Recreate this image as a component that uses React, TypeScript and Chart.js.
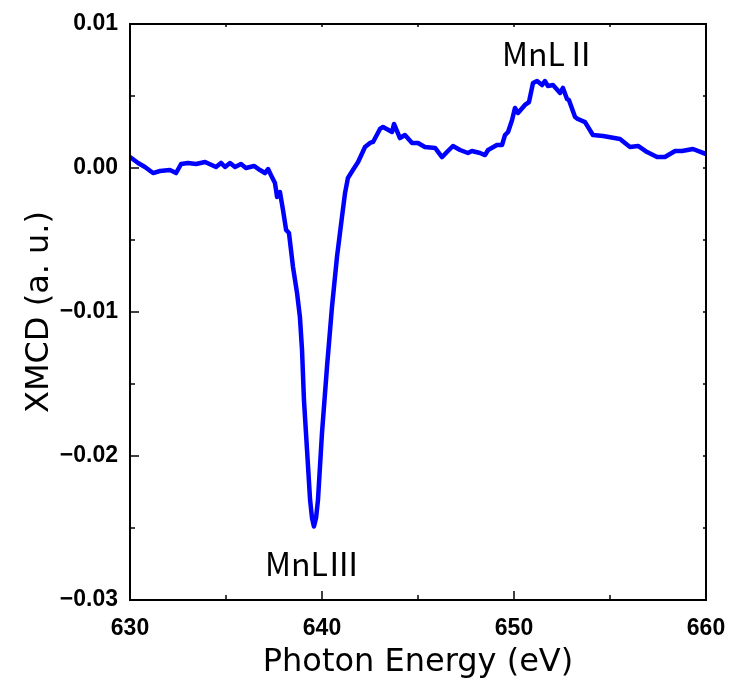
import React, { useEffect, useRef } from "react";
import { Chart, registerables } from "chart.js";

Chart.register(...registerables);

const energy: number[] = [
  630.0, 630.42, 630.78, 631.2, 631.56, 632.08, 632.4, 632.66, 633.02, 633.44,
  633.91, 634.48, 634.74, 634.95, 635.21, 635.47, 635.78, 636.04, 636.46, 636.77,
  637.03, 637.19, 637.34, 637.55, 637.66, 637.81, 637.97, 638.13, 638.28, 638.49,
  638.7, 638.85, 638.96, 639.06, 639.22, 639.38, 639.48, 639.58, 639.69, 639.79,
  640.0, 640.26, 640.52, 640.78, 641.04, 641.2, 641.35, 641.61, 641.88, 642.24,
  642.5, 642.66, 643.02, 643.18, 643.65, 643.75, 644.06, 644.32, 644.69, 645.0,
  645.36, 645.89, 646.25, 646.56, 646.82, 647.19, 647.6, 647.81, 648.23, 648.49,
  648.65, 649.11, 649.38, 649.53, 649.69, 649.9, 650.05, 650.21, 650.57, 650.78,
  650.99, 651.2, 651.46, 651.61, 651.77, 652.03, 652.4, 652.55, 652.76, 652.86,
  653.18, 653.33, 653.7, 654.11, 654.64, 655.52, 656.04, 656.46, 656.93, 657.45,
  657.86, 658.39, 658.75, 659.32, 660.0,
];

const xmcd: number[] = [
  0.00076, 0.00035, 0.00007, -0.00035, -0.00021, -0.00014, -0.00035, 0.00028, 0.00035, 0.00028,
  0.00042, 0.00007, 0.00035, 0.00007, 0.00035, 0.00007, 0.00028, 0.0, 0.00014, -0.00014,
  -0.00035, -0.00007, -0.00049, -0.00104, -0.00201, -0.00167, -0.00292, -0.0043, -0.00451, -0.00688,
  -0.00868, -0.01035, -0.01264, -0.01611, -0.01958, -0.02306, -0.0243, -0.0249, -0.0243, -0.02306,
  -0.0184, -0.01382, -0.00965, -0.00618, -0.0034, -0.00174, -0.00069, -0.00014, 0.00042, 0.00146,
  0.00174, 0.00181, 0.00271, 0.00285, 0.0025, 0.00306, 0.00208, 0.00229, 0.00174, 0.00174,
  0.00146, 0.00139, 0.00076, 0.00118, 0.00153, 0.00125, 0.00104, 0.00118, 0.00104, 0.0009,
  0.00125, 0.0016, 0.0016, 0.00229, 0.0025, 0.00333, 0.00417, 0.00382, 0.00438, 0.00458,
  0.0059, 0.00604, 0.00576, 0.00604, 0.00569, 0.00576, 0.00521, 0.00556, 0.00479, 0.00472,
  0.00354, 0.0034, 0.00319, 0.00229, 0.00222, 0.00201, 0.00146, 0.00153, 0.00111, 0.00076,
  0.00076, 0.00118, 0.00118, 0.00132, 0.00097,
];

const xTicks: number[] = [630, 640, 650, 660];
const xMinorTicks: number[] = [635, 645, 655];
const yTicks: number[] = [-0.03, -0.02, -0.01, 0.0, 0.01];
const yTickLabels: string[] = ["\u22120.03", "\u22120.02", "\u22120.01", "0.00", "0.01"];
const yMinorTicks: number[] = [-0.025, -0.015, -0.005, 0.005];

const peakLabels: string[] = ["MnL\u2162", "MnL\u2161"];
const peakLabelX: number[] = [639.5, 651.85];
const peakLabelY: number[] = [-0.0275, 0.0079];

const TITLE_FONT = '"DejaVu Sans", "Noto Sans", sans-serif';
const TICK_FONT = '"Liberation Sans", Arial, sans-serif';

const framePlugin = {
  id: "framePlugin",
  afterDatasetsDraw(chart: any) {
    const { ctx, chartArea, scales } = chart;
    const { left, right, top, bottom } = chartArea;
    const xs = scales.x;
    const ys = scales.y;
    ctx.save();
    ctx.strokeStyle = "#000";
    ctx.lineWidth = 1.5;
    const tick = (x1: number, y1: number, x2: number, y2: number) => {
      ctx.beginPath();
      ctx.moveTo(x1, y1);
      ctx.lineTo(x2, y2);
      ctx.stroke();
    };
    xTicks.forEach((v) => {
      const p = xs.getPixelForValue(v);
      tick(p, bottom, p, bottom - 9);
      tick(p, top, p, top + 3);
    });
    xMinorTicks.forEach((v) => {
      const p = xs.getPixelForValue(v);
      tick(p, bottom, p, bottom - 5);
      tick(p, top, p, top + 3);
    });
    yTicks.forEach((v) => {
      const p = ys.getPixelForValue(v);
      tick(left, p, left + 9, p);
      tick(right, p, right - 3, p);
    });
    yMinorTicks.forEach((v) => {
      const p = ys.getPixelForValue(v);
      tick(left, p, left + 5, p);
      tick(right, p, right - 3, p);
    });
    ctx.lineWidth = 2;
    ctx.strokeRect(left, top, right - left, bottom - top);

    ctx.fillStyle = "#000";
    ctx.font = '32px "Noto Sans CJK JP", "Noto Sans", sans-serif';
    ctx.textAlign = "center";
    ctx.textBaseline = "middle";
    peakLabels.forEach((t, i) => {
      ctx.fillText(t, xs.getPixelForValue(peakLabelX[i]), ys.getPixelForValue(peakLabelY[i]));
    });
    ctx.restore();
  },
};

export default function App() {
  const canvasRef = useRef<HTMLCanvasElement | null>(null);

  useEffect(() => {
    if (!canvasRef.current) return;
    const chart = new Chart(canvasRef.current, {
      type: "line",
      data: {
        datasets: [
          {
            data: energy.map((x, i) => ({ x, y: xmcd[i] })),
            borderColor: "#0000FF",
            borderWidth: 4.5,
            pointRadius: 0,
            tension: 0,
            borderJoinStyle: "round",
            borderCapStyle: "round",
            fill: false,
          },
        ],
      },
      options: {
        animation: false,
        responsive: false,
        maintainAspectRatio: false,
        layout: { padding: { left: 0, right: 25, top: 24, bottom: 0 } },
        plugins: { legend: { display: false }, tooltip: { enabled: false } },
        scales: {
          x: {
            type: "linear",
            min: 630,
            max: 660,
            afterFit: (s: any) => {
              s.height = 88;
              s.paddingLeft = 0;
              s.paddingRight = 0;
            },
            afterBuildTicks: (s: any) => {
              s.ticks = xTicks.map((v) => ({ value: v }));
            },
            grid: { display: false, drawTicks: false },
            border: { display: false },
            ticks: {
              padding: 15,
              color: "#000",
              font: { family: TICK_FONT, size: 23, weight: "bold" },
              callback: (v: any) => String(v),
            },
            title: {
              display: true,
              text: "Photon Energy (eV)",
              color: "#000",
              font: { family: TITLE_FONT, size: 32 },
              padding: { top: 0, bottom: 6 },
            },
          },
          y: {
            type: "linear",
            min: -0.03,
            max: 0.01,
            afterFit: (s: any) => {
              s.width = 130;
              s.paddingTop = 0;
              s.paddingBottom = 0;
            },
            afterBuildTicks: (s: any) => {
              s.ticks = yTicks.map((v) => ({ value: v }));
            },
            grid: { display: false, drawTicks: false },
            border: { display: false },
            ticks: {
              padding: 12,
              color: "#000",
              font: { family: TICK_FONT, size: 23, weight: "bold" },
              callback: (v: any) => {
                const idx = yTicks.findIndex((t) => Math.abs(t - Number(v)) < 1e-9);
                return idx >= 0 ? yTickLabels[idx] : "";
              },
            },
            title: {
              display: true,
              text: "XMCD (a. u.)",
              color: "#000",
              font: { family: TITLE_FONT, size: 32 },
              padding: { top: 20, bottom: 0 },
            },
          },
        },
      },
      plugins: [framePlugin],
    } as any);
    return () => chart.destroy();
  }, []);

  return (
    <div style={{ position: "fixed", left: 0, top: 0, width: 731, height: 688, background: "#fff" }}>
      <canvas ref={canvasRef} width={731} height={688} style={{ width: 731, height: 688 }} />
    </div>
  );
}
